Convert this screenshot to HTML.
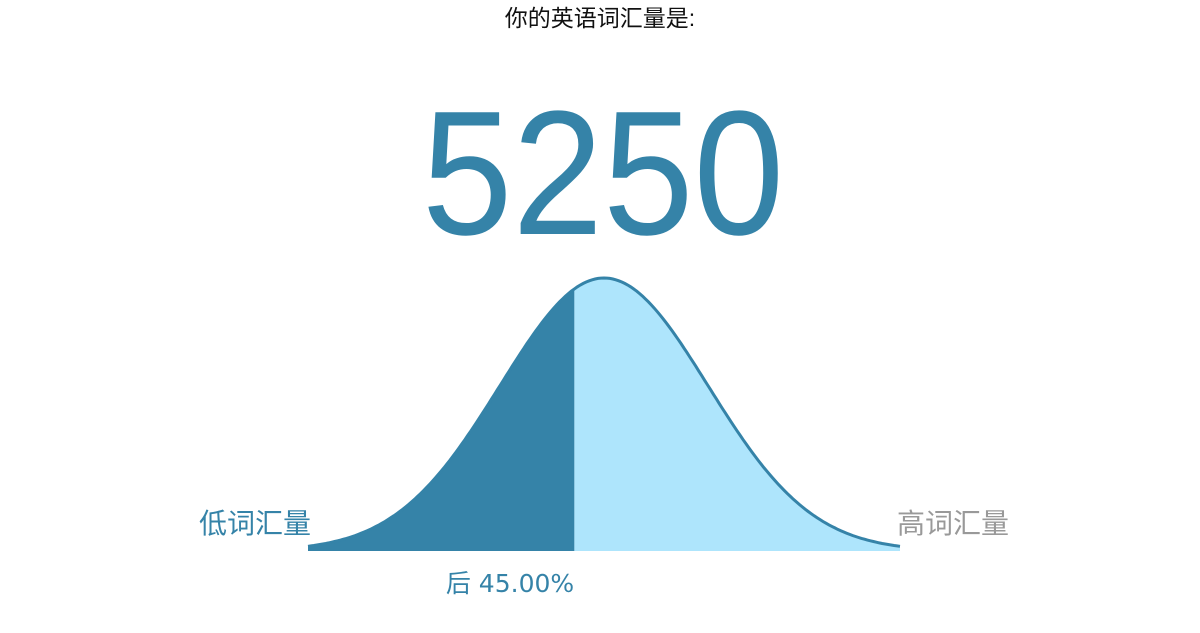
<!DOCTYPE html>
<html><head><meta charset="utf-8">
<style>
body{margin:0;width:1200px;height:628px;background:#fff;overflow:hidden;font-family:"Liberation Sans","Noto Sans CJK SC",sans-serif;}
</style></head>
<body>
<svg width="1200" height="628">
<text x="600" y="26" text-anchor="middle" font-size="23" fill="#111" font-family="Liberation Sans, Noto Sans CJK SC, sans-serif">你的英语词汇量是:</text>
<text id="score" x="0" y="0" text-anchor="middle" font-size="177" fill="#3583a8" transform="translate(603,234) scale(0.92,1)"></text>
<g id="curve"></g>
<text x="255" y="533" text-anchor="middle" font-size="28" fill="#3583a8" font-family="Liberation Sans, Noto Sans CJK SC, sans-serif">低词汇量</text>
<text x="953" y="533" text-anchor="middle" font-size="28" fill="#999" font-family="Liberation Sans, Noto Sans CJK SC, sans-serif">高词汇量</text>
<text id="pct" x="510" y="592" text-anchor="middle" font-size="25" fill="#3583a8" font-family="DejaVu Sans, Noto Sans CJK SC, sans-serif"></text>
</svg>
<script>
const scores=[5250];
const percentiles=[45];
const zRange=[-2.85,2.85];
const x0=308,x1=900,base=551,peak=273;
const ns="http://www.w3.org/2000/svg";
document.getElementById('score').textContent=scores[0];
document.getElementById('pct').textContent='后 '+percentiles[0].toFixed(2)+'%';
function xs(z){return x0+(z-zRange[0])/(zRange[1]-zRange[0])*(x1-x0);}
function ys(z){return base-peak*Math.exp(-z*z/2);}
const splitX=x0+percentiles[0]/100*(x1-x0);
const pts=[];
for(let i=0;i<=200;i++){const z=zRange[0]+(zRange[1]-zRange[0])*i/200;pts.push([xs(z),ys(z)]);}
const left=pts.filter(p=>p[0]<=splitX),right=pts.filter(p=>p[0]>=splitX);
const zs=zRange[0]+(splitX-x0)/(x1-x0)*(zRange[1]-zRange[0]);
const sy=ys(zs);
const g=document.getElementById('curve');
function poly(arr,fill,name){const p=document.createElementNS(ns,'path');
p.setAttribute('d','M'+arr.map(a=>a[0].toFixed(1)+','+a[1].toFixed(1)).join('L')+'Z');
p.setAttribute('fill',fill);


g.appendChild(p);}
poly([[x0,base],...left,[splitX,sy],[splitX,base]],'#3583a8','area-below');
poly([[splitX,base],[splitX,sy],...right,[x1,base]],'#aee5fc','area-above');
const line=document.createElementNS(ns,'path');
line.setAttribute('d','M'+pts.map(a=>a[0].toFixed(1)+','+a[1].toFixed(1)).join('L'));
line.setAttribute('fill','none');line.setAttribute('stroke','#3583a8');line.setAttribute('stroke-width','3');


g.appendChild(line);
</script>
</body></html>
